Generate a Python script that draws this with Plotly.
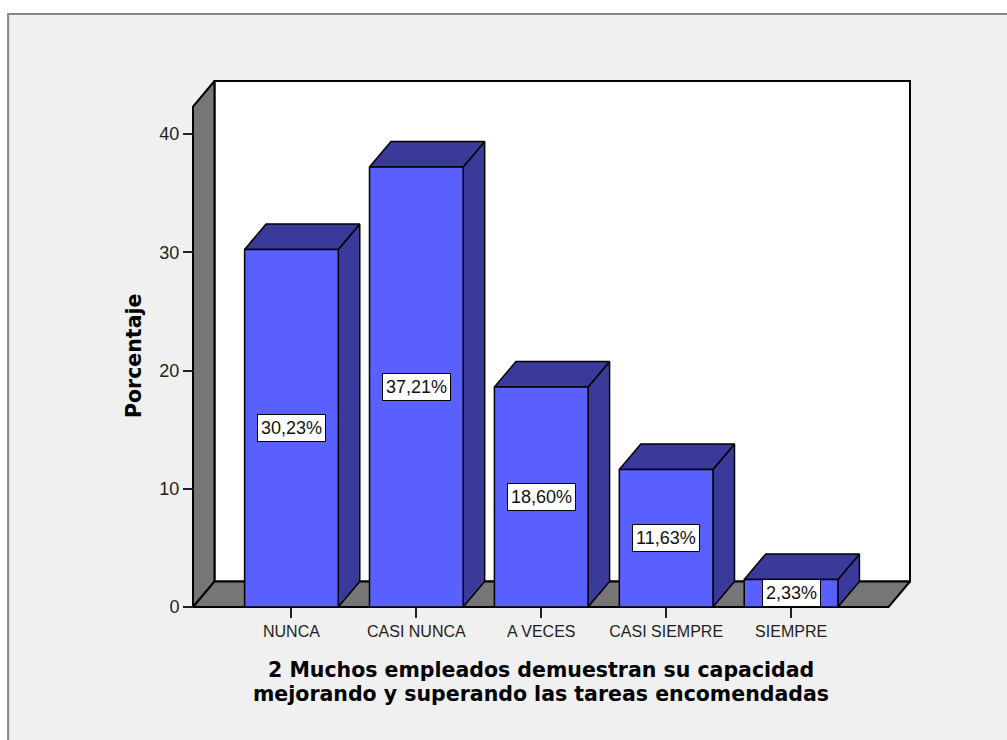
import plotly.graph_objects as go

# ---- data ----
categories = ["NUNCA", "CASI NUNCA", "A VECES", "CASI SIEMPRE", "SIEMPRE"]
percentages = [30.23, 37.21, 18.60, 11.63, 2.33]
y_ticks = [0, 10, 20, 30, 40]
x_title_lines = ["2 Muchos empleados demuestran su capacidad",
                 "mejorando y superando las tareas encomendadas"]
y_title = "Porcentaje"

# ---- canvas geometry (pixels) ----
W, H = 1007, 740
CAT0_PX = 291.5        # x of first category centre
CAT_PX = 125.0         # pixels per category step
ZERO_PX = 607.0        # y of the 0 % baseline (front plane)
PCT_PX = 11.825        # pixels per percentage point
FRONT_LEFT_PX = 193.0  # front edge of the left wall
FRONT_RIGHT_PX = 889.0 # front right corner of the floor
BACK_TOP_PX = 81.0     # top edge of the back wall
DEPTH_X_PX, DEPTH_Y_PX = 21.5, 25.5
PAD = 6                # keeps wall strokes inside the clip region
BAR_WIDTH = 0.75

plot_l = FRONT_LEFT_PX - PAD
plot_r = FRONT_RIGHT_PX + DEPTH_X_PX + PAD
plot_t = BACK_TOP_PX - PAD
plot_b = ZERO_PX + PAD


def px_x(p):
    return (p - CAT0_PX) / CAT_PX


def px_y(p):
    return (ZERO_PX - p) / PCT_PX


def paper_x(p):
    return (p - plot_l) / (plot_r - plot_l)


def paper_y(p):
    return (plot_b - p) / (plot_b - plot_t)


DX = DEPTH_X_PX / CAT_PX
DY = DEPTH_Y_PX / PCT_PX
XL = px_x(FRONT_LEFT_PX)
XR = px_x(FRONT_RIGHT_PX)
YT = px_y(BACK_TOP_PX)

FRONT_BLUE = "#5a5fff"
DARK_BLUE = "#393a9a"
WALL_GRAY = "#767676"
TITLE_FONT = "DejaVu Sans"
LABEL_FONT = "Arial, Liberation Sans, sans-serif"

fig = go.Figure()


def poly(pts, fill, lw):
    xs = [p[0] for p in pts] + [pts[0][0]]
    ys = [p[1] for p in pts] + [pts[0][1]]
    fig.add_trace(go.Scatter(
        x=xs, y=ys, mode="lines", fill="toself", fillcolor=fill,
        line=dict(color="black", width=lw), hoverinfo="skip",
        showlegend=False))


# back wall, left wall, floor
poly([(XL + DX, DY), (XR + DX, DY), (XR + DX, YT), (XL + DX, YT)], "white", 2)
poly([(XL, 0), (XL + DX, DY), (XL + DX, YT), (XL, YT - DY)], WALL_GRAY, 2)
poly([(XL, 0), (XR, 0), (XR + DX, DY), (XL + DX, DY)], WALL_GRAY, 2)

# 3-D bars: side, top, front
hw = BAR_WIDTH / 2
for i, v in enumerate(percentages):
    poly([(i + hw, 0), (i + hw + DX, DY), (i + hw + DX, v + DY), (i + hw, v)],
         DARK_BLUE, 1.5)
    poly([(i - hw, v), (i + hw, v), (i + hw + DX, v + DY), (i - hw + DX, v + DY)],
         DARK_BLUE, 1.5)
    poly([(i - hw, 0), (i + hw, 0), (i + hw, v), (i - hw, v)],
         FRONT_BLUE, 1.5)

annotations = []
for i, v in enumerate(percentages):
    annotations.append(dict(
        x=i, y=v / 2, xref="x", yref="y", showarrow=False,
        text=f"{v:.2f}".replace(".", ",") + "%",
        font=dict(family=LABEL_FONT, size=18, color="#111"),
        bgcolor="white", bordercolor="black", borderwidth=1, borderpad=3))

# axis titles
mid_cat = (len(categories) - 1) / 2
for line, cy in zip(x_title_lines, [670, 694]):
    annotations.append(dict(
        x=mid_cat, y=paper_y(cy), xref="x", yref="paper", showarrow=False,
        text=line, xanchor="center", yanchor="middle",
        font=dict(family=TITLE_FONT, size=20.5, color="black", weight="bold")))
annotations.append(dict(
    x=paper_x(134), y=paper_y(356), xref="paper", yref="paper",
    showarrow=False, text=y_title, textangle=-90,
    xanchor="center", yanchor="middle",
    font=dict(family=TITLE_FONT, size=20.5, color="black", weight="bold")))

# outer chart frame
shapes = [dict(
    type="rect", xref="paper", yref="paper", layer="below",
    x0=paper_x(8), x1=paper_x(W + 30), y0=paper_y(14), y1=paper_y(H + 30),
    fillcolor="#f0f0f0", line=dict(color="#858585", width=2))]

fig.update_layout(
    width=W, height=H, autosize=False,
    margin=dict(l=plot_l, r=W - plot_r, t=plot_t, b=H - plot_b, pad=0),
    paper_bgcolor="white", plot_bgcolor="rgba(0,0,0,0)",
    showlegend=False, annotations=annotations, shapes=shapes,
    xaxis=dict(
        range=[px_x(plot_l), px_x(plot_r)], tickmode="array",
        tickvals=list(range(len(categories))), ticktext=categories,
        ticks="outside", ticklen=10, tickwidth=1.5, tickcolor="#222",
        showgrid=False, zeroline=False, showline=False,
        anchor="free", position=paper_y(ZERO_PX),
        tickfont=dict(family=LABEL_FONT, size=16, color="#1e1e1e"),
        fixedrange=True),
    yaxis=dict(
        range=[px_y(plot_b), px_y(plot_t)], tickmode="array",
        tickvals=y_ticks, ticktext=[str(t) for t in y_ticks],
        ticks="outside", ticklen=10, tickwidth=1.5, tickcolor="#222",
        showgrid=False, zeroline=False, showline=False,
        anchor="free", position=paper_x(FRONT_LEFT_PX),
        tickfont=dict(family=LABEL_FONT, size=18, color="#1e1e1e"),
        fixedrange=True),
)

fig.write_html("out.html")
